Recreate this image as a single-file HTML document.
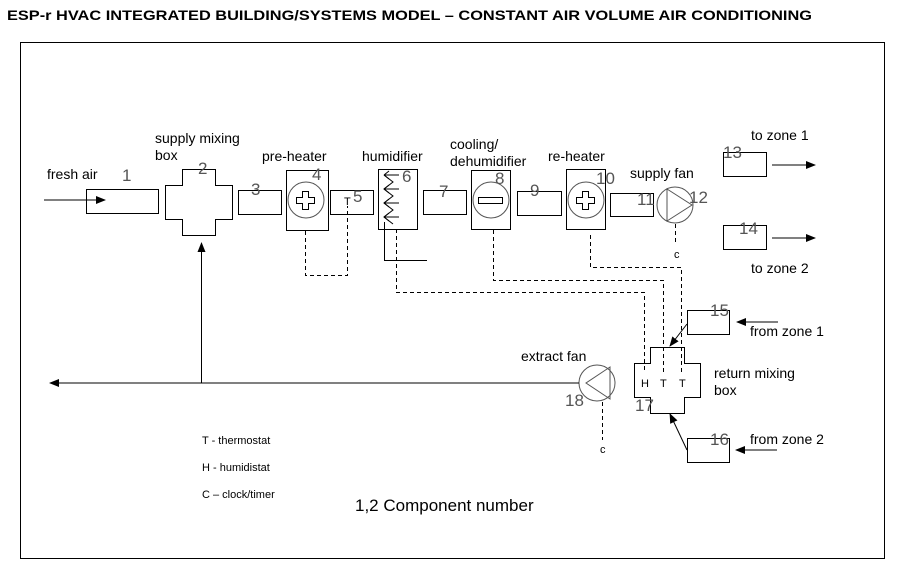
<!DOCTYPE html>
<html><head><style>body{margin:0;background:#fff}svg{display:block}text{font-family:"Liberation Sans",sans-serif}</style></head><body>
<svg width="897" height="577" viewBox="0 0 897 577" xmlns="http://www.w3.org/2000/svg">
<defs><marker id="a" markerWidth="10" markerHeight="8" refX="9" refY="4" orient="auto" markerUnits="userSpaceOnUse"><path d="M0,0L10,4L0,8z" fill="#000"/></marker></defs>
<text x="7" y="20" font-size="14" font-weight="bold" textLength="805" lengthAdjust="spacingAndGlyphs">ESP-r HVAC INTEGRATED BUILDING/SYSTEMS MODEL – CONSTANT AIR VOLUME AIR CONDITIONING</text>
<rect x="20.5" y="42.5" width="864" height="516" fill="none" stroke="#000"/>
<g fill="none" stroke="#000" stroke-width="1">
<line x1="44" y1="200" x2="105" y2="200" marker-end="url(#a)"/>
<rect x="86.5" y="189.5" width="72" height="24"/>
<path d="M182.5,169.5H215.5V185.5H232.5V219.5H215.5V235.5H182.5V219.5H165.5V185.5H182.5Z"/>
<rect x="238.5" y="190.5" width="43" height="24"/>
<rect x="286.5" y="170.5" width="42" height="60"/>
<circle cx="306" cy="200" r="18" stroke="#555"/>
<path d="M302.5,191.5h6v6h6v6h-6v6h-6v-6h-6v-6h6z"/>
<rect x="330.5" y="190.5" width="43" height="24"/>
<rect x="378.5" y="169.5" width="39" height="60"/>
<path d="M384,175L393,182L384,189L393,196L384,203L393,210L384,217L393,224"/>
<path d="M384,175H399M384,175L389,171M384,175L389,179 M384,189H399M384,189L389,185M384,189L389,193 M384,203H399M384,203L389,199M384,203L389,207 M384,217H399M384,217L389,213M384,217L389,221"/>
<path d="M384.5,222V260.5H427"/>
<rect x="423.5" y="190.5" width="43" height="24"/>
<rect x="471.5" y="170.5" width="39" height="59"/>
<circle cx="491" cy="200" r="18" stroke="#555"/>
<rect x="478.5" y="197.5" width="24" height="6"/>
<rect x="517.5" y="191.5" width="44" height="24"/>
<rect x="566.5" y="169.5" width="39" height="60"/>
<circle cx="586" cy="200" r="18" stroke="#555"/>
<path d="M582.5,191.5h6v6h6v6h-6v6h-6v-6h-6v-6h6z"/>
<rect x="610.5" y="193.5" width="43" height="23"/>
<circle cx="675" cy="205" r="18" stroke="#555"/>
<path d="M667,189V221L692,205Z" stroke="#555"/>
<rect x="723.5" y="152.5" width="43" height="24"/>
<line x1="772" y1="165" x2="815" y2="165" marker-end="url(#a)"/>
<rect x="723.5" y="225.5" width="43" height="24"/>
<line x1="772" y1="238" x2="815" y2="238" marker-end="url(#a)"/>
<rect x="687.5" y="310.5" width="42" height="24"/>
<line x1="778" y1="322" x2="737" y2="322" marker-end="url(#a)"/>
<line x1="687" y1="324" x2="670" y2="346" marker-end="url(#a)"/>
<path d="M650.5,347.5H684.5V363.5H700.5V397.5H684.5V413.5H650.5V397.5H634.5V363.5H650.5Z"/>
<rect x="687.5" y="438.5" width="42" height="24"/>
<line x1="777" y1="450" x2="736" y2="450" marker-end="url(#a)"/>
<line x1="687" y1="450" x2="670" y2="414" marker-end="url(#a)"/>
<circle cx="597" cy="383" r="18" stroke="#555"/>
<path d="M610,367V399L586,383Z" stroke="#555"/>
<line x1="579" y1="383" x2="50" y2="383" marker-end="url(#a)"/>
<line x1="201.5" y1="383" x2="201.5" y2="243" marker-end="url(#a)"/>
</g>
<g fill="none" stroke="#000" stroke-dasharray="4,3">
<path d="M305.5,231V275.5H347.5V206"/>
<path d="M396.5,229V292.5H644.5V372"/>
<path d="M493.5,230V280.5H663.5V372"/>
<path d="M590.5,235V267.5H681.5V372"/>
<path d="M675.5,224V242"/>
<path d="M602.5,402V440"/>
</g>
<g font-size="14">
<text x="47" y="179">fresh air</text>
<text x="155" y="143">supply mixing</text>
<text x="155" y="160">box</text>
<text x="262" y="161">pre-heater</text>
<text x="362" y="161">humidifier</text>
<text x="450" y="149">cooling/</text>
<text x="450" y="166">dehumidifier</text>
<text x="548" y="161">re-heater</text>
<text x="630" y="178">supply fan</text>
<text x="751" y="140">to zone 1</text>
<text x="751" y="273">to zone 2</text>
<text x="750" y="336">from zone 1</text>
<text x="750" y="444">from zone 2</text>
<text x="521" y="361">extract fan</text>
<text x="714" y="378">return mixing</text>
<text x="714" y="395">box</text>
</g>
<g font-size="17" fill="#555">
<text x="122" y="181">1</text><text x="198" y="174">2</text><text x="251" y="195">3</text>
<text x="312" y="180">4</text><text x="353" y="202">5</text><text x="402" y="182">6</text>
<text x="439" y="197">7</text><text x="495" y="184">8</text><text x="530" y="196">9</text>
<text x="596" y="184">10</text><text x="637" y="205">11</text><text x="689" y="203">12</text>
<text x="723" y="158">13</text><text x="739" y="234">14</text><text x="710" y="316">15</text>
<text x="710" y="445">16</text><text x="635" y="411">17</text><text x="565" y="406">18</text>
</g>
<g font-size="11">
<text x="344" y="205">T</text>
<text x="641" y="387">H</text><text x="660" y="387">T</text><text x="679" y="387">T</text>
<text x="674" y="258">c</text><text x="600" y="453">c</text>
<text x="202" y="444">T - thermostat</text>
<text x="202" y="471">H - humidistat</text>
<text x="202" y="498">C – clock/timer</text>
</g>
<text x="355" y="511" font-size="17">1,2  Component number</text>
</svg>
</body></html>
